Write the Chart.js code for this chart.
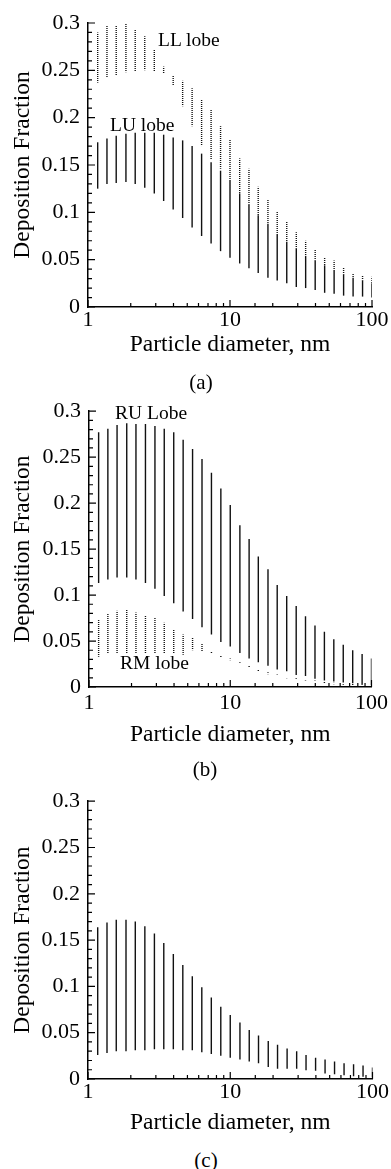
<!DOCTYPE html>
<html>
<head>
<meta charset="utf-8">
<script src="https://cdn.jsdelivr.net/npm/chart.js@4"></script>
<style>
  body { margin: 0; background: #fff; }
  #page {
    position: relative;
    width: 391px;
    height: 1169px;
    overflow: hidden;
    font-family: "Liberation Serif", "Times New Roman", serif;
    color: #000;
  }
  .panel { position: absolute; left: 0; }
  .lbl { position: absolute; font-size: 19.5px; line-height: 19.5px; white-space: nowrap; }
  .cap { position: absolute; width: 60px; text-align: center; font-size: 21px; line-height: 21px; }
</style>
</head>
<body>
<div id="page">
  <canvas id="chartA" class="panel" style="top:0px" width="391" height="365"></canvas>
  <canvas id="chartB" class="panel" style="top:390px" width="391" height="365"></canvas>
  <canvas id="chartC" class="panel" style="top:780px" width="391" height="365"></canvas>

  <div class="lbl" style="left:158px; top:30px">LL lobe</div>
  <div class="lbl" style="left:110px; top:115px">LU lobe</div>
  <div class="lbl" style="left:115px; top:403px">RU Lobe</div>
  <div class="lbl" style="left:120px; top:653px">RM lobe</div>

  <div class="cap" style="left:171px; top:372px">(a)</div>
  <div class="cap" style="left:175px; top:759px">(b)</div>
  <div class="cap" style="left:176px; top:1150px">(c)</div>
</div>

<script>
// particle diameters (nm), one bar per diameter
var diameters = [1.17, 1.36, 1.58, 1.85, 2.15, 2.51, 2.93, 3.41, 3.98, 4.64,
  5.41, 6.31, 7.36, 8.58, 10, 11.7, 13.6, 15.8, 18.5, 21.5,
  25.1, 29.3, 34.1, 39.8, 46.4, 54.1, 63.1, 73.6, 85.8, 100];

var yTickLabels = ["0", "0.05", "0.1", "0.15", "0.2", "0.25", "0.3"];
var xTickLabels = { 1: "1", 10: "10", 100: "100" };

// (a) LL lobe (dotted)
var llMin = [0.237, 0.242, 0.245, 0.248, 0.249, 0.250, 0.249, 0.247, 0.234, 0.212,
  0.191, 0.170, 0.156, 0.146, 0.133, 0.120, 0.108, 0.097, 0.088, 0.076,
  0.069, 0.062, 0.054, 0.049, 0.044, 0.038, 0.034, 0.031, 0.028, 0.025];
var llMax = [0.290, 0.298, 0.298, 0.300, 0.293, 0.286, 0.272, 0.254, 0.244, 0.239,
  0.231, 0.219, 0.209, 0.191, 0.177, 0.157, 0.146, 0.127, 0.113, 0.101,
  0.090, 0.079, 0.070, 0.061, 0.052, 0.049, 0.042, 0.036, 0.033, 0.032];

// (a) LU lobe (solid)
var luMin = [0.125, 0.130, 0.131, 0.132, 0.130, 0.126, 0.120, 0.112, 0.103, 0.094,
  0.084, 0.075, 0.067, 0.059, 0.052, 0.046, 0.041, 0.036, 0.031, 0.028,
  0.025, 0.021, 0.020, 0.018, 0.015, 0.014, 0.012, 0.011, 0.011, 0.010];
var luMax = [0.174, 0.178, 0.181, 0.183, 0.184, 0.184, 0.184, 0.182, 0.179, 0.176,
  0.170, 0.162, 0.153, 0.144, 0.133, 0.120, 0.108, 0.097, 0.088, 0.076,
  0.069, 0.062, 0.054, 0.049, 0.044, 0.038, 0.034, 0.031, 0.028, 0.025];

// (b) RU lobe (solid)
var ruMin = [0.113, 0.117, 0.119, 0.119, 0.117, 0.113, 0.107, 0.099, 0.091, 0.082,
  0.074, 0.065, 0.057, 0.049, 0.044, 0.037, 0.031, 0.027, 0.023, 0.019,
  0.017, 0.013, 0.012, 0.009, 0.007, 0.006, 0.005, 0.004, 0.003, 0.003];
var ruMax = [0.277, 0.281, 0.285, 0.287, 0.286, 0.286, 0.284, 0.281, 0.277, 0.269,
  0.259, 0.248, 0.233, 0.216, 0.198, 0.176, 0.161, 0.142, 0.128, 0.111,
  0.099, 0.088, 0.077, 0.067, 0.060, 0.052, 0.046, 0.040, 0.036, 0.031];

// (b) RM lobe (dotted)
var rmMin = [0.033, 0.036, 0.037, 0.037, 0.037, 0.037, 0.037, 0.036, 0.036, 0.035,
  0.040, 0.039, 0.036, 0.032, 0.029, 0.025, 0.021, 0.017, 0.014, 0.012,
  0.0095, 0.008, 0.007, 0.0055, 0.004, 0.003, 0.0025, 0.002, 0.002, 0.0015];
var rmMax = [0.073, 0.080, 0.083, 0.084, 0.081, 0.078, 0.075, 0.070, 0.063, 0.057,
  0.054, 0.047, 0.039, 0.034, 0.031, 0.027, 0.023, 0.019, 0.016, 0.0135,
  0.011, 0.0095, 0.0085, 0.007, 0.0055, 0.0045, 0.004, 0.0035, 0.003, 0.003];

// (c) single lobe (solid)
var cMin = [0.026, 0.028, 0.030, 0.030, 0.031, 0.031, 0.032, 0.032, 0.032, 0.031,
  0.031, 0.029, 0.027, 0.025, 0.023, 0.021, 0.019, 0.017, 0.013, 0.011,
  0.011, 0.011, 0.0095, 0.009, 0.006, 0.005, 0.004, 0.003, 0.0025, 0.002];
var cMax = [0.164, 0.169, 0.172, 0.172, 0.170, 0.165, 0.157, 0.147, 0.135, 0.123,
  0.111, 0.099, 0.088, 0.078, 0.069, 0.061, 0.053, 0.047, 0.041, 0.037,
  0.033, 0.030, 0.026, 0.023, 0.021, 0.019, 0.017, 0.016, 0.0145, 0.0125];

var serif = "'Liberation Serif', 'Times New Roman', serif";

function toBars(mins, maxs) {
  return diameters.map(function (d, i) {
    return { x: d, y: [mins[i], maxs[i]] };
  });
}

function dottedPattern(ctx) {
  var c = document.createElement("canvas");
  c.width = 2;
  c.height = 2;
  var g = c.getContext("2d");
  g.fillStyle = "#111";
  g.fillRect(0, 0, 2, 1);
  return ctx.createPattern(c, "repeat");
}

function barSet(mins, maxs, color) {
  return {
    data: toBars(mins, maxs),
    backgroundColor: color,
    borderWidth: 0,
    grouped: false,
    maxBarThickness: 1.4,
    inflateAmount: 0,
  };
}

// small ticks pointing into the plot
var innerTicks = {
  id: "innerTicks",
  afterDraw: function (chart) {
    var ctx = chart.ctx;
    var area = chart.chartArea;
    var xs = chart.scales.x;
    var ys = chart.scales.y;
    ctx.save();
    ctx.strokeStyle = "#000";
    ctx.lineWidth = 1.2;
    ctx.beginPath();
    for (var i = 0; i <= 30; i++) {
      var py = ys.getPixelForValue(i / 100);
      var len = i % 5 === 0 ? 7 : 4;
      ctx.moveTo(area.left, py);
      ctx.lineTo(area.left + len, py);
    }
    xs.ticks.forEach(function (t) {
      var px = xs.getPixelForValue(t.value);
      var len = xTickLabels[t.value] ? 7 : 4;
      ctx.moveTo(px, area.bottom);
      ctx.lineTo(px, area.bottom - len);
    });
    ctx.stroke();
    ctx.restore();
  },
};

function makePanel(id, datasets, box) {
  var canvas = document.getElementById(id);
  return new Chart(canvas, {
    type: "bar",
    data: { datasets: datasets },
    options: {
      responsive: false,
      animation: false,
      events: [],
      layout: {
        padding: { top: box.top, right: 391 - box.right, left: 0, bottom: 0 },
      },
      plugins: {
        legend: { display: false },
        tooltip: { enabled: false },
      },
      scales: {
        x: {
          type: "logarithmic",
          min: 1,
          max: 100,
          offset: false,
          grid: { display: false, drawTicks: false },
          border: { display: true, color: "#000", width: 1.5 },
          ticks: {
            autoSkip: false,
            maxRotation: 0,
            padding: box.xPad,
            color: "#000",
            font: { family: serif, size: 22 },
            callback: function (v) {
              return xTickLabels[v] || "";
            },
          },
          title: {
            display: true,
            text: "Particle diameter, nm",
            color: "#000",
            font: { family: serif, size: 23.5 },
            padding: { top: 0, bottom: box.titlePad },
          },
          afterFit: function (s) {
            s.height = 365 - box.bottom;
          },
        },
        y: {
          min: 0,
          max: 0.3,
          grid: { display: false, drawTicks: false },
          border: { display: true, color: "#000", width: 1.5 },
          ticks: {
            stepSize: 0.05,
            padding: 8,
            color: "#000",
            font: { family: serif, size: 22 },
            callback: function (v, i) {
              return yTickLabels[i];
            },
          },
          title: {
            display: true,
            text: "Deposition Fraction",
            color: "#000",
            font: { family: serif, size: 23.5 },
            padding: { top: 9, bottom: 0 },
          },
          afterFit: function (s) {
            s.width = box.left;
          },
        },
      },
    },
    plugins: [innerTicks],
  });
}

var ctxA = document.getElementById("chartA").getContext("2d");
var ctxB = document.getElementById("chartB").getContext("2d");

makePanel(
  "chartA",
  [barSet(luMin, luMax, "#111"), barSet(llMin, llMax, dottedPattern(ctxA))],
  { top: 23, bottom: 307, left: 88, right: 372, xPad: 0, titlePad: 6 }
);
makePanel(
  "chartB",
  [barSet(ruMin, ruMax, "#111"), barSet(rmMin, rmMax, dottedPattern(ctxB))],
  { top: 20, bottom: 297, left: 89, right: 374, xPad: 3, titlePad: 6 }
);
makePanel(
  "chartC",
  [barSet(cMin, cMax, "#111")],
  { top: 15, bottom: 299, left: 88, right: 372.5, xPad: 0, titlePad: 8 }
);
</script>
</body>
</html>
